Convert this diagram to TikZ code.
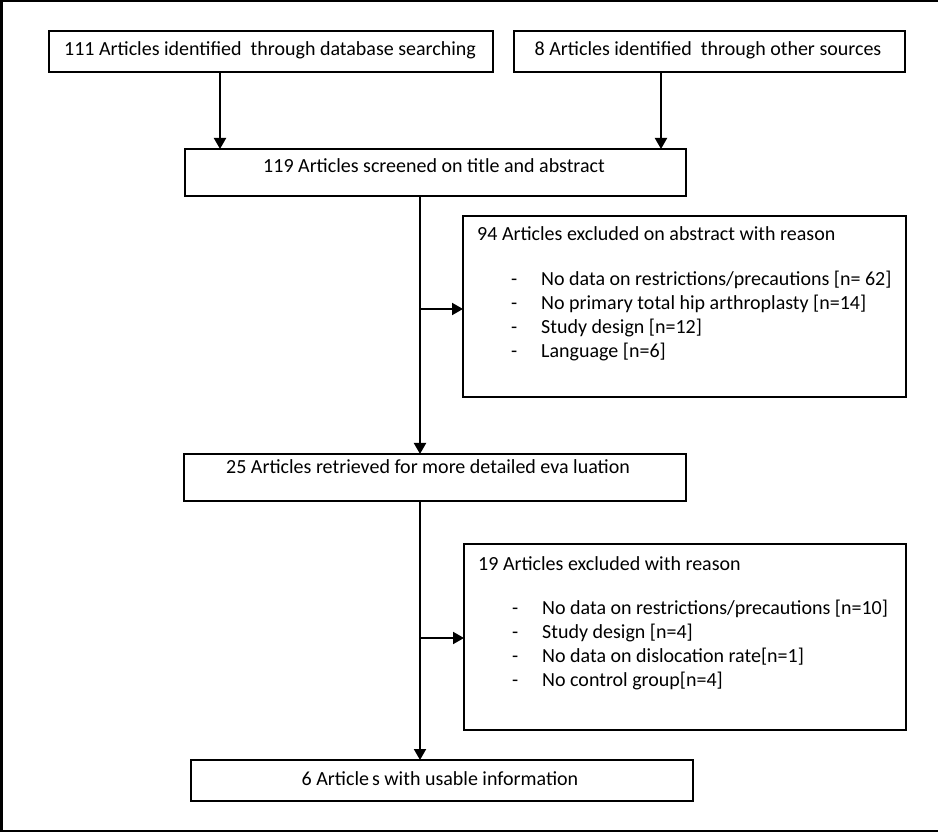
\documentclass[tikz,border=0pt]{standalone}
\usepackage{fontspec}
\setmainfont{Carlito}
\usetikzlibrary{arrows.meta}
\begin{document}
\begin{tikzpicture}[x=1pt,y=-1pt,
  box/.style={draw=black, line width=2pt, inner sep=0pt, outer sep=0pt, anchor=north west},
  txt/.style={font=\fontsize{20}{24}\selectfont, inner sep=0pt, anchor=base},
  ltxt/.style={txt, anchor=base west},
  arr/.style={line width=2pt, -{Triangle[width=12pt,length=11pt]}},
  frame/.style={line width=2.5pt}]
\useasboundingbox (0,0) rectangle (938,834);
% outer frame
\draw[frame] (938,1.2) -- (1.5,1.2) -- (1.5,831) -- (938,831);
% boxes
\node[box, minimum width=444pt, minimum height=41pt] (A) at (49,31) {};
\node[box, minimum width=391pt, minimum height=41pt] (B) at (514,31) {};
\node[box, minimum width=501pt, minimum height=47pt] (C) at (185,149) {};
\node[box, minimum width=443pt, minimum height=181pt] (D) at (463,216) {};
\node[box, minimum width=502pt, minimum height=47pt] (E) at (184,454) {};
\node[box, minimum width=442pt, minimum height=186pt] (F) at (464,544) {};
\node[box, minimum width=502pt, minimum height=41pt] (G) at (191,760) {};
% texts
\node[txt] (At) at (270,56) {111 Articles identified\ \ through database searching};
\node[txt] (Bt) at (708,56) {8 Articles identified\ \ through other sources};
\node[txt] (Ct) at (434,173) {119 Articles screened on title and abstract};
\node[ltxt] (Dt) at (477,241) {94 Articles excluded on abstract with reason};
\node[ltxt] (D1) at (511,286) {\makebox[30pt][l]{-}No data on restrictions/precautions [n= 62]};
\node[ltxt] (D2) at (511,310) {\makebox[30pt][l]{-}No primary total hip arthroplasty [n=14]};
\node[ltxt] (D3) at (511,334) {\makebox[30pt][l]{-}Study design [n=12]};
\node[ltxt] (D4) at (511,358) {\makebox[30pt][l]{-}Language [n=6]};
\node[txt] (Et) at (428,474) {25 Articles retrieved for more detailed eva luation};
\node[ltxt] (Ft) at (478,570) {19 Articles excluded with reason};
\node[ltxt] (F1) at (512,614) {\makebox[30pt][l]{-}No data on restrictions/precautions [n=10]};
\node[ltxt] (F2) at (512,638) {\makebox[30pt][l]{-}Study design [n=4]};
\node[ltxt] (F3) at (512,662) {\makebox[30pt][l]{-}No data on dislocation rate[n=1]};
\node[ltxt] (F4) at (512,686) {\makebox[30pt][l]{-}No control group[n=4]};
\node[txt] (Gt) at (440,785) {6 Article\kern3pt s with usable information};
% connectors
\coordinate (xa) at (220,0);
\coordinate (xb) at (661,0);
\coordinate (xv) at (420,0);
\coordinate (b1) at (420,309);
\coordinate (b2) at (420,638);
\draw[arr] (A.south -| xa) -- (C.north -| xa);
\draw[arr] (B.south -| xb) -- (C.north -| xb);
\draw[arr] (C.south -| xv) -- (E.north -| xv);
\draw[arr] (b1) -- (b1 -| D.west);
\draw[arr] (E.south -| xv) -- (G.north -| xv);
\draw[arr] (b2) -- (b2 -| F.west);
\end{tikzpicture}
\end{document}
